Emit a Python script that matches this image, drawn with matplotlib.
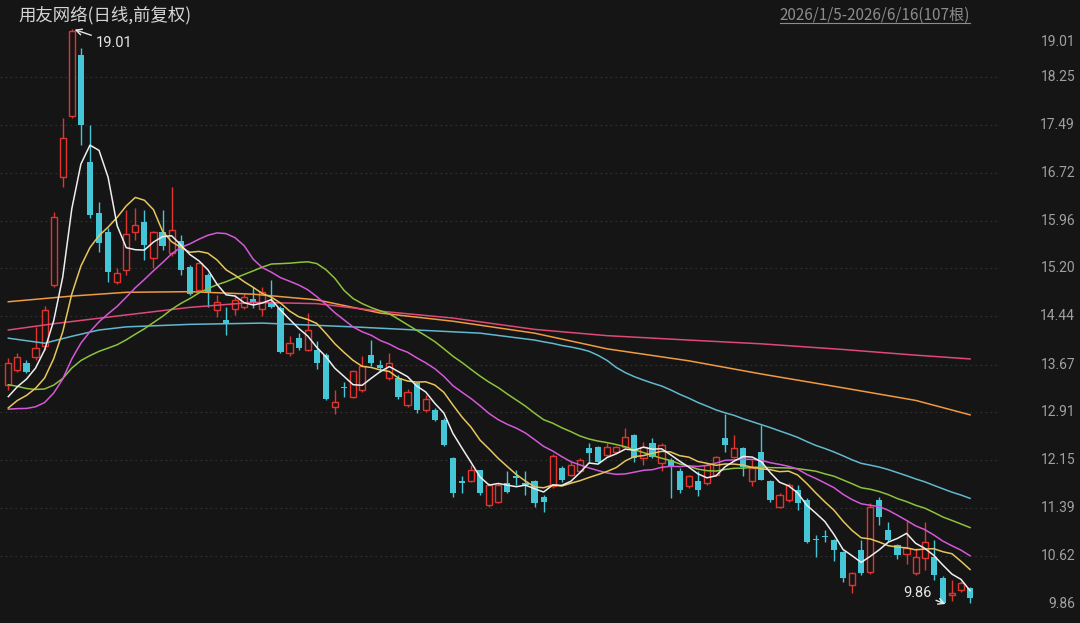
import numpy as np
import pandas as pd
import matplotlib
matplotlib.use("Agg")
import matplotlib.pyplot as plt
from matplotlib.transforms import blended_transform_factory
from matplotlib.lines import Line2D

plt.rcParams['font.family'] = ['Noto Sans CJK SC', 'DejaVu Sans']

# daily OHLC, 2026/1/5 - 2026/6/16 (107 bars)
opens = [13.35, 13.58, 13.70, 13.79, 13.96, 14.94, 16.65, 17.62, 18.60, 16.89,
         16.08, 15.78, 14.99, 15.17, 15.78, 15.94, 15.36, 15.78, 15.44, 15.63,
         15.23, 14.86, 15.10, 14.54, 14.38, 14.56, 14.59, 14.72, 14.55, 14.67,
         14.57, 13.85, 14.09, 13.90, 13.90, 13.82, 13.00, 13.32, 13.16, 13.26,
         13.82, 13.66, 13.45, 13.45, 13.03, 13.37, 12.95, 12.95, 12.79, 12.18,
         11.81, 11.81, 11.99, 11.43, 11.49, 11.78, 11.89, 11.78, 11.81, 11.57,
         11.73, 12.02, 11.91, 11.97, 12.34, 12.36, 12.23, 12.28, 12.36, 12.55,
         12.18, 12.42, 12.10, 12.15, 11.97, 11.73, 11.81, 11.78, 11.91, 12.50,
         12.20, 12.34, 11.81, 12.28, 11.81, 11.41, 11.51, 11.67, 11.51, 10.89,
         10.94, 10.88, 10.69, 10.16, 10.72, 10.37, 11.51, 11.04, 10.80, 10.66,
         10.35, 10.59, 10.61, 10.27, 10.00, 10.08, 10.11]
highs = [13.77, 13.85, 13.74, 14.27, 14.60, 16.10, 17.59, 19.01, 18.70, 17.48,
         16.26, 15.85, 15.20, 16.13, 16.16, 16.13, 15.80, 16.13, 16.50, 15.73,
         15.25, 15.30, 15.12, 14.78, 14.59, 14.78, 14.80, 14.90, 14.90, 15.02,
         14.60, 14.13, 14.17, 14.49, 14.04, 13.85, 13.27, 13.40, 13.58, 13.80,
         14.06, 13.75, 13.85, 13.50, 13.28, 13.40, 13.19, 12.98, 12.82, 12.20,
         11.89, 12.07, 12.00, 11.78, 11.78, 11.97, 11.99, 11.97, 11.83, 11.59,
         12.25, 12.05, 12.12, 12.18, 12.42, 12.38, 12.42, 12.38, 12.66, 12.57,
         12.44, 12.50, 12.42, 12.18, 12.02, 11.91, 11.97, 12.10, 12.22, 12.89,
         12.55, 12.36, 12.15, 12.71, 11.83, 11.62, 11.78, 11.75, 11.54, 10.96,
         11.04, 10.90, 10.70, 10.37, 10.88, 11.46, 11.56, 11.17, 10.82, 11.20,
         10.75, 11.17, 10.88, 10.30, 10.24, 10.22, 10.13]
lows = [13.26, 13.55, 13.54, 13.75, 13.90, 14.90, 16.50, 17.60, 17.16, 16.00,
        15.46, 14.98, 14.95, 15.10, 15.65, 15.33, 15.20, 15.50, 15.40, 15.10,
        14.78, 14.84, 14.59, 14.43, 14.14, 14.46, 14.55, 14.57, 14.45, 14.57,
        13.85, 13.81, 13.90, 13.88, 13.60, 13.10, 12.89, 13.16, 13.14, 13.24,
        13.65, 13.55, 13.42, 13.12, 13.00, 12.90, 12.92, 12.77, 12.37, 11.57,
        11.62, 11.80, 11.59, 11.40, 11.47, 11.63, 11.75, 11.59, 11.41, 11.33,
        11.70, 11.80, 11.89, 11.95, 12.10, 12.10, 12.20, 12.26, 12.34, 12.12,
        12.07, 12.18, 11.97, 11.54, 11.62, 11.70, 11.58, 11.75, 11.89, 12.28,
        12.18, 11.89, 11.73, 11.83, 11.49, 11.39, 11.49, 11.36, 10.83, 10.61,
        10.85, 10.55, 10.21, 10.03, 10.32, 10.33, 11.11, 10.86, 10.57, 10.50,
        10.32, 10.40, 10.24, 9.86, 9.90, 10.05, 9.87]
closes = [13.70, 13.79, 13.55, 13.93, 14.54, 16.02, 17.28, 18.98, 17.48, 16.05,
          15.60, 15.14, 15.12, 15.74, 15.89, 15.57, 15.78, 15.55, 15.81, 15.17,
          14.80, 15.28, 14.83, 14.67, 14.32, 14.70, 14.75, 14.65, 14.83, 14.59,
          13.87, 14.01, 13.93, 14.22, 13.69, 13.13, 13.08, 13.29, 13.56, 13.64,
          13.69, 13.61, 13.69, 13.16, 13.24, 12.95, 13.13, 12.79, 12.39, 11.62,
          11.78, 11.99, 11.62, 11.75, 11.75, 11.65, 11.86, 11.75, 11.46, 11.49,
          12.21, 11.83, 12.07, 12.15, 12.26, 12.12, 12.36, 12.36, 12.52, 12.18,
          12.36, 12.20, 12.39, 12.04, 11.67, 11.89, 11.67, 12.07, 12.20, 12.39,
          12.34, 12.04, 12.02, 11.83, 11.51, 11.59, 11.75, 11.46, 10.85, 10.88,
          10.92, 10.72, 10.27, 10.35, 10.35, 11.40, 11.25, 10.88, 10.64, 10.75,
          10.61, 10.85, 10.32, 9.87, 10.03, 10.19, 9.95]

# closes before 1/5 (estimated so the short MAs start where the chart shows)
prev_close = [14.60, 14.55, 14.40, 14.30, 14.20, 14.10, 14.00, 13.90, 13.70, 13.55,
              13.60, 13.50, 13.40, 13.20, 13.00, 12.80, 12.60, 12.45, 12.40, 12.45,
              12.60, 12.75, 12.80, 12.90, 12.95, 13.00, 12.95, 13.05, 13.10]

# long MAs (bar index, value)
ma60_idx = [0, 4, 7, 10, 13, 20, 28, 38, 45, 52, 58]
ma60_val = [14.09, 14.01, 14.12, 14.22, 14.27, 14.31, 14.33, 14.27, 14.22, 14.17, 14.06]
ma120_idx = [0, 7, 13, 20, 27, 34, 41, 49, 58, 66, 75, 83, 92, 100, 106]
ma120_val = [14.67, 14.76, 14.82, 14.83, 14.79, 14.70, 14.49, 14.36, 14.17, 13.92,
             13.73, 13.52, 13.30, 13.10, 12.87]
ma250_idx = [0, 5, 13, 20, 27, 34, 41, 49, 58, 66, 75, 83, 92, 100, 106]
ma250_val = [14.22, 14.32, 14.46, 14.58, 14.66, 14.64, 14.52, 14.41, 14.23, 14.13,
             14.06, 14.00, 13.91, 13.82, 13.76]

ytick_labels = ['19.01', '18.25', '17.49', '16.72', '15.96', '15.20', '14.44',
                '13.67', '12.91', '12.15', '11.39', '10.62', '9.86']
title = '用友网络(日线,前复权)'
span_text = '2026/1/5-2026/6/16(107根)'

BG = '#151515'
UP = '#e0352f'
DOWN = '#45c6d6'

fig = plt.figure(figsize=(10.8, 6.23), dpi=100, facecolor=BG)
ax = fig.add_axes([0, 19 / 623, 1000 / 1080, 575 / 623])
ax.set_facecolor(BG)
n = len(closes)
ax.set_xlim(-0.915, 109.3)
ax.set_ylim(9.86, 19.01)
for s in ax.spines.values():
    s.set_visible(False)
ax.set_xticks([])
ax.set_yticks([])

ticks = [float(t) for t in ytick_labels]
for t in ticks[1:-1]:
    ax.axhline(t, color='#333333', lw=0.8, ls=(0, (1.5, 3)), zorder=0)

# candles
w = 0.68
for i in range(n):
    o, h, l, c = opens[i], highs[i], lows[i], closes[i]
    top, bot = max(o, c), min(o, c)
    if c >= o:
        ax.vlines(i, top, h, color=UP, lw=1, zorder=2)
        ax.vlines(i, l, bot, color=UP, lw=1, zorder=2)
        ax.bar(i, max(top - bot, 0.01), w, bot, facecolor=BG, edgecolor=UP,
               linewidth=1, zorder=3)
    else:
        ax.vlines(i, l, h, color=DOWN, lw=1, zorder=2)
        ax.bar(i, max(top - bot, 0.01), w, bot, color=DOWN, linewidth=0, zorder=3)

# moving averages
cl = pd.Series(prev_close + closes)
x = np.arange(n)
k = len(prev_close)
for per, col in [(30, '#8cc23c'), (20, '#d458d8'), (10, '#e6c65c'), (5, '#eeeeee')]:
    ma = cl.rolling(per).mean().values[k:]
    ax.plot(x, ma, color=col, lw=1.1, zorder=5)

ma60 = pd.Series(closes).rolling(60).mean().values
ax.plot(ma60_idx + list(range(59, n)), ma60_val + list(ma60[59:]),
        color='#62b8d0', lw=1.1, zorder=4)
ax.plot(ma120_idx, ma120_val, color='#f09a42', lw=1.1, zorder=4)
ax.plot(ma250_idx, ma250_val, color='#e04878', lw=1.1, zorder=4)

# high / low marks
ax.annotate('19.01', xy=(7.3, 19.0), xytext=(9.6, 18.79), color='#e8e8e8',
            fontsize=10.5, family=['Roboto', 'DejaVu Sans'], ha='left', va='center',
            arrowprops=dict(arrowstyle='->', color='#e8e8e8', lw=1,
                            shrinkA=1, shrinkB=0), zorder=6)
ax.annotate('9.86', xy=(103.3, 9.86), xytext=(101.8, 10.03), color='#e8e8e8',
            fontsize=10.5, family=['Roboto', 'DejaVu Sans'], ha='right', va='center',
            arrowprops=dict(arrowstyle='->', color='#e8e8e8', lw=1,
                            shrinkA=1, shrinkB=0), zorder=6)

# price axis labels
tr = blended_transform_factory(ax.transAxes, ax.transData)
for lab, t in zip(ytick_labels, ticks):
    dy = -13 if t == ticks[0] else 0
    ax.annotate(lab, xy=(1.075, t), xycoords=tr, xytext=(0, dy),
                textcoords='offset pixels', ha='right', va='center',
                color='#a0a0a0', fontsize=10, family=['Roboto', 'DejaVu Sans'],
                annotation_clip=False)

fig.text(18 / 1080, 1 - 15 / 623, title, color='#d6d6d6', fontsize=12.5,
         ha='left', va='center')
st = fig.text(970 / 1080, 1 - 15 / 623, span_text, color='#8c8c8c', fontsize=11,
              ha='right', va='center')
fig.canvas.draw()
bb = st.get_window_extent()
fig.add_artist(Line2D([bb.x0, bb.x1], [bb.y0 + 1, bb.y0 + 1], color='#8c8c8c',
                      lw=0.8, transform=None))

fig.savefig('out.png', dpi=100, facecolor=BG)
